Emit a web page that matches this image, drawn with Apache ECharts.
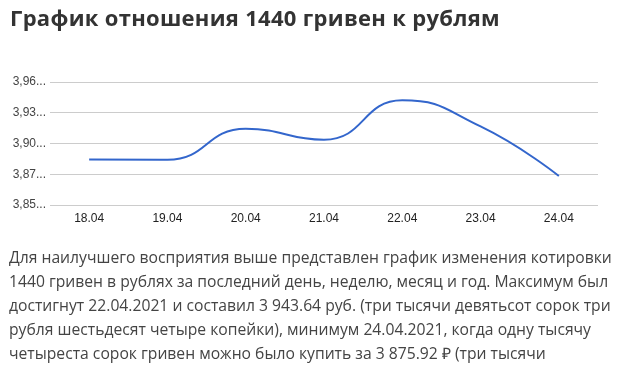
<!DOCTYPE html>
<html>
<head>
<meta charset="utf-8">
<script src="https://cdn.jsdelivr.net/npm/echarts@6/dist/echarts.min.js"></script>
<style>
  html, body { margin: 0; padding: 0; background: #fff; }
  body { width: 622px; height: 372px; position: relative; overflow: hidden; }
  #chart { position: absolute; left: 0; top: 0; width: 622px; height: 372px; }
  #title { position: absolute; left: 10px; top: 6px; font-family: "Open Sans", sans-serif; font-weight: bold;
           font-size: 22px; line-height: 22px; letter-spacing: 0.3px; color: #333; white-space: nowrap; }
  #text { position: absolute; left: 9px; top: 245px; font-family: "Open Sans", sans-serif;
          font-size: 15.7px; line-height: 24px; color: #444; white-space: nowrap; }
</style>
</head>
<body>
<div id="chart"></div>
<div id="title">График отношения 1440 гривен к рублям</div>
<div id="text">Для наилучшего восприятия выше представлен график изменения котировки<br>1440 гривен в рублях за последний день, неделю, месяц и год. Максимум был<br>достигнут 22.04.2021 и составил 3 943.64 руб. (три тысячи девятьсот сорок три<br>рубля шестьдесят четыре копейки), минимум 24.04.2021, когда одну тысячу<br>четыреста сорок гривен можно было купить за 3 875.92 ₽ (три тысячи</div>
<script>
const dates = ['18.04', '19.04', '20.04', '21.04', '22.04', '23.04', '24.04'];
const rates = [3.8908, 3.8905, 3.9182, 3.9084, 3.9436, 3.9203, 3.8759];
const yTickLabels = ['3,85...', '3,87...', '3,90...', '3,93...', '3,96...'];
const yMin = 3.85, yMax = 3.96, yStep = 0.0275;

const chart = echarts.init(document.getElementById('chart'), null, { renderer: 'canvas' });
chart.setOption({
  animation: false,
  grid: { left: 50, right: 24, top: 82, bottom: 167, containLabel: false },
  xAxis: {
    type: 'category', data: dates, boundaryGap: true,
    axisLine: { show: false }, axisTick: { show: false },
    axisLabel: { color: '#222', fontFamily: 'Liberation Sans, Arial', fontSize: 12, margin: 8 }
  },
  yAxis: {
    type: 'value', min: yMin, max: yMax, interval: yStep,
    axisLine: { show: false }, axisTick: { show: false },
    splitLine: { lineStyle: { color: '#cccccc', width: 1 } },
    axisLabel: {
      color: '#444', fontFamily: 'Liberation Sans, Arial', fontSize: 12, margin: 4,
      formatter: v => yTickLabels[Math.round((v - yMin) / yStep)] || ''
    }
  },
  series: [{
    type: 'line', data: rates, smooth: 0.5, showSymbol: false,
    lineStyle: { color: '#3366cc', width: 2 }, itemStyle: { color: '#3366cc' }
  }]
});
</script>
</body>
</html>
